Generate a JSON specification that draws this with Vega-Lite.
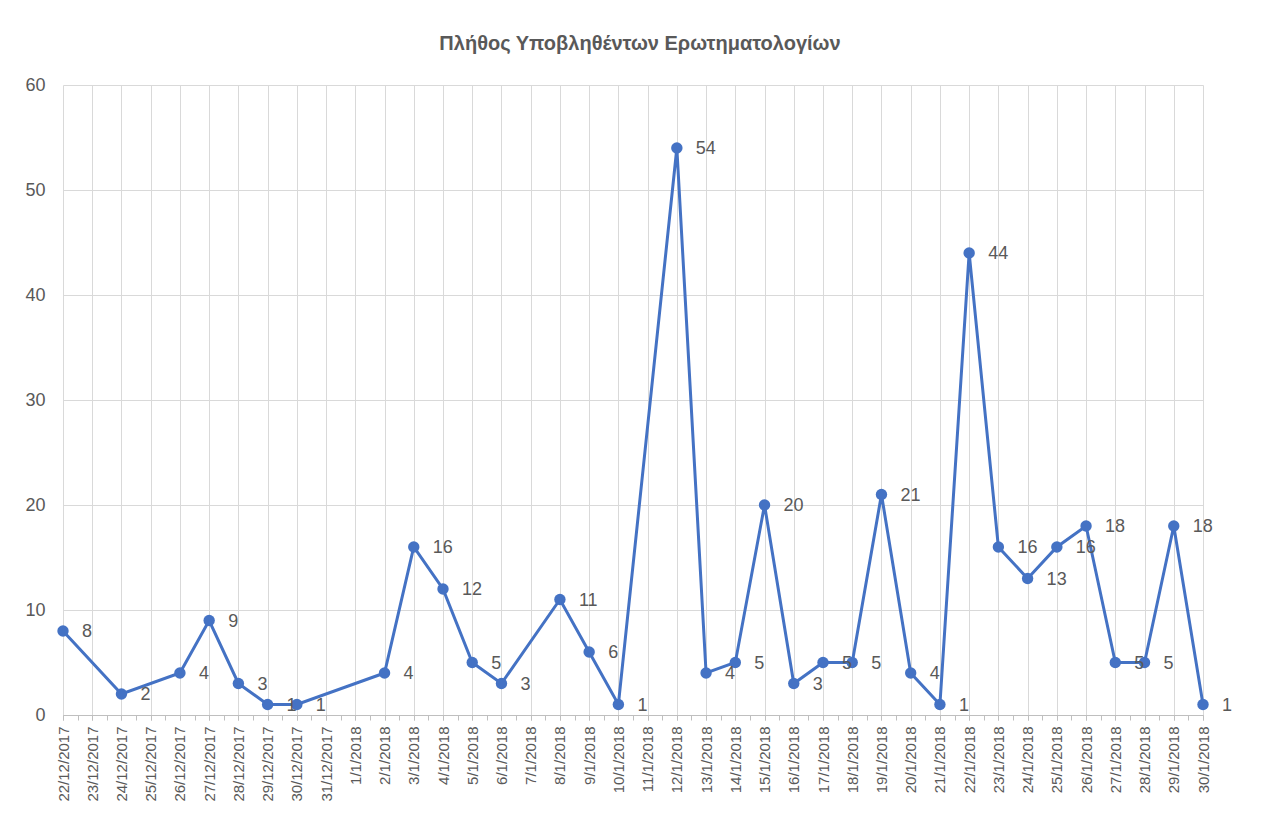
{
  "$schema": "https://vega.github.io/schema/vega-lite/v6.json",
  "autosize": "none",
  "width": 1140,
  "height": 630,
  "padding": {"left": 63, "top": 85, "right": 65, "bottom": 110},
  "background": "white",
  "title": {
    "text": "Πλήθος Υποβληθέντων Ερωτηματολογίων",
    "anchor": "middle",
    "font": "Liberation Sans",
    "fontSize": 20,
    "fontWeight": "bold",
    "color": "#595959",
    "offset": 22,
    "dx": 7
  },
  "config": {
    "view": {"stroke": null},
    "font": "Liberation Sans"
  },
  "data": {
    "values": [
      {"date": "2017-12-22", "count": 8},
      {"date": "2017-12-24", "count": 2},
      {"date": "2017-12-26", "count": 4},
      {"date": "2017-12-27", "count": 9},
      {"date": "2017-12-28", "count": 3},
      {"date": "2017-12-29", "count": 1},
      {"date": "2017-12-30", "count": 1},
      {"date": "2018-01-02", "count": 4},
      {"date": "2018-01-03", "count": 16},
      {"date": "2018-01-04", "count": 12},
      {"date": "2018-01-05", "count": 5},
      {"date": "2018-01-06", "count": 3},
      {"date": "2018-01-08", "count": 11},
      {"date": "2018-01-09", "count": 6},
      {"date": "2018-01-10", "count": 1},
      {"date": "2018-01-12", "count": 54},
      {"date": "2018-01-13", "count": 4},
      {"date": "2018-01-14", "count": 5},
      {"date": "2018-01-15", "count": 20},
      {"date": "2018-01-16", "count": 3},
      {"date": "2018-01-17", "count": 5},
      {"date": "2018-01-18", "count": 5},
      {"date": "2018-01-19", "count": 21},
      {"date": "2018-01-20", "count": 4},
      {"date": "2018-01-21", "count": 1},
      {"date": "2018-01-22", "count": 44},
      {"date": "2018-01-23", "count": 16},
      {"date": "2018-01-24", "count": 13},
      {"date": "2018-01-25", "count": 16},
      {"date": "2018-01-26", "count": 18},
      {"date": "2018-01-27", "count": 5},
      {"date": "2018-01-28", "count": 5},
      {"date": "2018-01-29", "count": 18},
      {"date": "2018-01-30", "count": 1}
    ]
  },
  "encoding": {
    "y": {
      "field": "count",
      "type": "quantitative",
      "scale": {"domain": [0, 60], "nice": false},
      "axis": {
        "title": null,
        "values": [0, 10, 20, 30, 40, 50, 60],
        "labelFontSize": 18,
        "labelColor": "#595959",
        "labelPadding": 18,
        "domain": false,
        "ticks": false,
        "grid": true,
        "gridColor": "#d9d9d9",
        "gridWidth": 1
      }
    }
  },
  "resolve": {"axis": {"x": "independent"}},
  "layer": [
    {
      "mark": {"type": "line", "color": "#4472C4", "strokeWidth": 3},
      "encoding": {
        "x": {
          "field": "date",
          "type": "temporal",
          "scale": {
            "type": "utc",
            "domain": [
              {"year": 2017, "month": 12, "date": 22, "utc": true},
              {"year": 2018, "month": 1, "date": 30, "utc": true}
            ],
            "nice": false
          },
          "axis": {
            "title": null,
            "orient": "bottom",
            "tickCount": 40,
            "labelExpr": "utcFormat(datum.value, '%-d/%-m/%Y')",
            "labelAngle": -90,
            "labelFontSize": 15,
            "labelColor": "#595959",
            "labelPadding": 6,
            "labelOverlap": false,
            "labelBound": false,
            "labelFlush": false,
            "grid": true,
            "gridColor": "#d9d9d9",
            "gridWidth": 1,
            "domainColor": "#bfbfbf",
            "domainWidth": 1,
            "tickColor": "#bfbfbf",
            "tickSize": 5,
            "tickWidth": 1
          }
        }
      }
    },
    {
      "mark": {"type": "circle", "color": "#4472C4", "size": 130, "opacity": 1},
      "encoding": {
        "x": {
          "field": "date",
          "type": "temporal",
          "axis": {
            "title": null,
            "orient": "bottom",
            "tickCount": 80,
            "labels": false,
            "grid": false,
            "domain": false,
            "ticks": true,
            "tickColor": "#bfbfbf",
            "tickSize": 5,
            "tickWidth": 1
          }
        }
      }
    },
    {
      "mark": {"type": "text", "align": "left", "baseline": "middle", "dx": 19, "dy": 1, "fontSize": 18, "color": "#595959"},
      "encoding": {
        "x": {"field": "date", "type": "temporal", "axis": null},
        "text": {"field": "count", "type": "quantitative"}
      }
    }
  ]
}
